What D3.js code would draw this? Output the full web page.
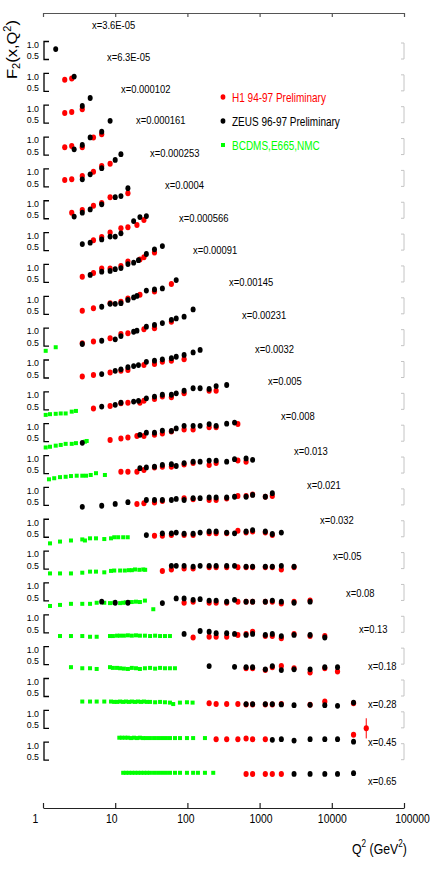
<!DOCTYPE html>
<html><head><meta charset="utf-8">
<script src="https://cdn.jsdelivr.net/npm/d3@7"></script>
<style>
body{margin:0;background:#fff}
svg{display:block}
text{font-family:"Liberation Sans",Arial,Helvetica,sans-serif}
</style>
</head><body>
<svg id="c" width="436" height="872"></svg>
<script>
// ---------------- DATA ----------------
const xBins = ["3.6E-05","6.3E-05","0.000102","0.000161","0.000253","0.0004","0.000566","0.00091",
  "0.00145","0.00231","0.0032","0.005","0.008","0.013","0.021","0.032","0.05","0.08","0.13","0.18",
  "0.28","0.45","0.65"];
const q2Ticks = [1,10,100,1000,10000,100000];
const bracketTicks = [0.5, 1.0];
const seriesNames = ["H1 94-97 Preliminary","ZEUS 96-97 Preliminary","BCDMS,E665,NMC"];

// H1 94-97: per x bin, [Q2, F2, (error)]
const h1 = [
  [],
  [[2,0.82],[2.5,0.86]],
  [[2,0.78],[2.5,0.81],[3.5,0.89]],
  [[2,0.72],[2.5,0.75],[3.5,0.72],[5,0.99],[6.5,1.08]],
  [[2,0.69],[2.5,0.71],[3.5,0.8],[5,0.92],[6.5,1.08],[8.5,1.14]],
  [[2.5,0.67],[3.5,0.74],[5,0.86],[6.5,0.94],[8.5,1.1],[15,1.21]],
  [[5,0.79],[6.5,0.88],[8.5,1.0],[12,1.12],[15,1.15],[20,1.21],[25,1.35]],
  [[3.5,0.66],[5,0.76],[6.5,0.89],[8.5,0.89],[12,0.96],[15,1.08],[22,1.14],[25,1.2],[35,1.33]],
  [[3.5,0.6],[5,0.67],[8.5,0.81],[12,0.85],[15,0.94],[22,1.04],[35,1.13],[60,1.34]],
  [[3.5,0.58],[5,0.63],[8.5,0.72],[12,0.84],[15,0.86],[25,0.97],[35,1.0],[60,1.18]],
  [[3.5,0.54],[5,0.58],[8.5,0.65],[12,0.7],[15,0.72],[25,0.86],[35,0.89],[45,0.95],[60,0.98],[90,1.02]],
  [[5,0.54],[8.5,0.61],[12,0.68],[15,0.7],[22,0.7],[25,0.75],[35,0.8],[45,0.87],[60,0.85],[90,0.96],[200,1.03],[250,1.03]],
  [[8.5,0.55],[12,0.59],[15,0.62],[20,0.66],[25,0.66],[35,0.69],[45,0.73],[60,0.78],[90,0.84],[120,0.84],[200,0.9],[250,0.9],[500,0.99]],
  [[12,0.55],[15,0.55],[20,0.55],[25,0.6],[35,0.67],[45,0.69],[60,0.69],[90,0.75],[120,0.79],[200,0.74],[250,0.79],[500,0.86],[650,0.83]],
  [[20,0.54],[25,0.56],[35,0.58],[45,0.62],[90,0.7],[120,0.67],[200,0.65],[250,0.65],[350,0.69],[500,0.76],[650,0.76],[800,0.8],[1200,0.74],[1500,0.76]],
  [[35,0.54],[45,0.54],[60,0.56],[90,0.56],[120,0.56],[200,0.61],[250,0.61],[350,0.61],[500,0.68],[650,0.63],[800,0.66],[1200,0.63],[1500,0.56]],
  [[45,0.45],[60,0.49],[90,0.52],[120,0.52],[200,0.55],[250,0.55],[350,0.55],[500,0.55],[650,0.55],[800,0.55],[1200,0.55],[1500,0.55],[2000,0.49],[3000,0.55]],
  [[90,0.45],[120,0.48],[200,0.45],[250,0.45],[350,0.45],[500,0.48],[650,0.48],[800,0.48],[1200,0.48],[1500,0.48],[2000,0.43],[3000,0.48],[5000,0.51]],
  [[120,0.37],[200,0.39],[250,0.39],[350,0.39],[500,0.44],[650,0.47],[800,0.53],[1200,0.41],[1500,0.41],[2000,0.35],[3000,0.47],[5000,0.41],[8000,0.41]],
  [[650,0.4],[800,0.4],[1200,0.35],[1500,0.43],[2000,0.46],[3000,0.4],[5000,0.28],[8000,0.4],[12000,0.31]],
  [[200,0.31],[250,0.29],[350,0.29],[500,0.29],[650,0.28],[800,0.28],[1200,0.28],[1500,0.28],[2000,0.29],[5000,0.27],[8000,0.36],[20000,0.31]],
  [[250,0.2],[350,0.2],[500,0.2],[650,0.22],[800,0.2],[1200,0.2],[20000,0.32],[30000,0.5,0.28]],
  [[650,0.12],[800,0.12],[1200,0.12],[1500,0.12],[2000,0.12]]
];

// ZEUS 96-97
const zeus = [
  [[1.5,0.79]],
  [[2.7,0.91]],
  [[3.5,0.98],[4.5,1.2]],
  [[2.7,0.66],[3.5,0.78],[4.5,0.99],[6.5,1.15],[8.5,1.45]],
  [[3.5,0.71],[4.5,0.85],[6.5,1.02],[10,1.25],[12,1.41]],
  [[2.7,0.56],[3.5,0.67],[4.5,0.76],[6.5,0.9],[10,1.1],[12,1.13],[15,1.35]],
  [[3.5,0.68],[4.5,0.72],[6.5,0.81],[8.5,0.89],[10,0.89],[12,0.98],[18,1.32],[22,1.43],[27,1.46]],
  [[4.5,0.71],[6.5,0.8],[8.5,0.82],[10,0.87],[12,0.9],[15,1.01],[18,1.05],[21,1.12],[27,1.29],[35,1.42],[45,1.51]],
  [[6.5,0.71],[8.5,0.79],[10,0.79],[12,0.81],[15,0.9],[18,0.97],[20,1.01],[27,1.16],[35,1.19],[45,1.22],[70,1.45]],
  [[3.5,0.56],[6.5,0.65],[10,0.69],[12,0.78],[18,0.9],[20,0.93],[27,1.04],[35,1.09],[45,1.14],[60,1.23],[70,1.27],[90,1.32],[120,1.52]],
  [[6.5,0.61],[10,0.7],[12,0.74],[15,0.8],[18,0.83],[21,0.86],[27,0.95],[35,0.98],[45,1.02],[60,1.05],[70,1.09],[90,1.14],[120,1.21],[150,1.28]],
  [[6.5,0.59],[10,0.64],[12,0.7],[18,0.73],[21,0.75],[27,0.82],[35,0.87],[45,0.92],[60,0.92],[70,0.96],[90,1.03],[120,1.1],[150,1.1],[200,1.08],[250,1.16],[350,1.19]],
  [[3.5,0.47],[22,0.69],[27,0.75],[35,0.75],[45,0.81],[60,0.8],[70,0.87],[90,0.94],[120,0.94],[150,0.94],[200,0.99],[250,0.94],[350,1.0],[450,1.03]],
  [[22,0.65],[27,0.67],[35,0.69],[45,0.74],[60,0.76],[70,0.71],[90,0.79],[120,0.83],[150,0.83],[200,0.86],[250,0.86],[350,0.83],[450,0.9],[650,0.92],[800,0.88]],
  [[3.5,0.46],[6.5,0.49],[10,0.54],[15,0.59],[27,0.65],[35,0.65],[45,0.65],[60,0.65],[70,0.68],[90,0.65],[120,0.7],[150,0.7],[200,0.72],[250,0.72],[350,0.72],[450,0.74],[650,0.74],[800,0.79],[1200,0.74],[1500,0.84]],
  [[27,0.56],[45,0.61],[60,0.61],[70,0.63],[90,0.6],[120,0.6],[150,0.63],[200,0.66],[250,0.66],[350,0.63],[450,0.61],[650,0.66],[800,0.7],[1200,0.66],[1500,0.59],[2000,0.63]],
  [[60,0.59],[70,0.59],[90,0.59],[120,0.57],[150,0.59],[200,0.59],[250,0.59],[350,0.59],[450,0.59],[650,0.57],[800,0.57],[1200,0.57],[1500,0.57],[2000,0.59],[3000,0.57]],
  [[6.5,0.48],[10,0.45],[15,0.45],[45,0.44],[70,0.57],[90,0.57],[120,0.53],[150,0.55],[200,0.51],[250,0.51],[350,0.48],[450,0.53],[650,0.48],[800,0.48],[1200,0.48],[1500,0.51],[2000,0.48],[3000,0.45],[5000,0.48]],
  [[90,0.47],[150,0.55],[200,0.53],[250,0.49],[350,0.49],[450,0.47],[650,0.44],[800,0.47],[1200,0.44],[1500,0.47],[2000,0.41],[3000,0.44],[5000,0.44],[8000,0.37]],
  [[200,0.46],[450,0.44],[650,0.43],[800,0.43],[1200,0.37],[1500,0.46],[2000,0.35],[3000,0.37],[5000,0.37],[8000,0.43],[12000,0.43]],
  [[650,0.29],[800,0.29],[1200,0.29],[1500,0.29],[2000,0.28],[3000,0.26],[5000,0.27],[8000,0.26],[12000,0.24],[20000,0.33]],
  [[1500,0.18],[2000,0.2],[3000,0.16],[5000,0.2],[8000,0.2],[12000,0.2],[20000,0.13]],
  [[3000,0.12],[5000,0.12],[8000,0.12],[12000,0.12],[20000,0.14]]
];

// BCDMS, E665, NMC (fixed target)
const fixedTarget = [
  [],[],[],[],[],[],[],[],[],
  [[1.09,0.37],[1.5,0.47]],
  [],
  [[1.09,0.36],[1.25,0.38],[1.5,0.39],[1.76,0.4],[2.06,0.4],[2.5,0.45],[2.86,0.47]],
  [[1.09,0.34],[1.25,0.36],[1.5,0.39],[1.76,0.41],[2.06,0.44],[2.5,0.44],[2.86,0.46],[3.81,0.5],[4.03,0.52]],
  [[1.21,0.34],[1.43,0.37],[1.72,0.4],[2.06,0.41],[2.44,0.43],[2.93,0.44],[3.5,0.44],[3.94,0.44],[4.58,0.46],[5.42,0.51],[7.2,0.46]],
  [],
  [[1.25,0.33],[1.72,0.38],[2.44,0.41],[3.5,0.44],[3.81,0.41],[4.48,0.47],[5.42,0.47],[7.06,0.45],[8.75,0.47],[9.7,0.5],[11,0.5],[12.9,0.5],[14.9,0.5]],
  [[1.25,0.38],[1.72,0.38],[2.44,0.38],[3.5,0.4],[4.48,0.43],[5.42,0.43],[7.06,0.41],[8.75,0.45],[9.7,0.46],[11.7,0.46],[13.6,0.46],[15.5,0.47],[17,0.47],[18.8,0.49],[21.6,0.48],[24.5,0.49],[26,0.48]],
  [[1.25,0.36],[1.72,0.39],[2.44,0.42],[3.5,0.42],[4.48,0.42],[5.54,0.45],[7.06,0.45],[8.47,0.44],[9.7,0.45],[11.7,0.44],[12.9,0.45],[14,0.46],[15.5,0.47],[17,0.47],[19.4,0.48],[22,0.47],[25.8,0.51],[33.7,0.27]],
  [[1.72,0.41],[2.44,0.41],[3.5,0.41],[4.48,0.39],[5.54,0.39],[8.47,0.41],[9.3,0.41],[10.6,0.42],[11.7,0.42],[13.2,0.42],[15,0.43],[17,0.42],[19.4,0.43],[22,0.42],[25.8,0.42],[30.4,0.41],[35.7,0.42],[41.8,0.41],[48.9,0.41],[57.3,0.41]],
  [[2.44,0.43],[3.5,0.4],[4.48,0.4],[5.54,0.38],[8.47,0.43],[9.3,0.41],[10.6,0.41],[11.7,0.4],[13.2,0.39],[15,0.38],[17,0.41],[19.4,0.4],[22,0.38],[25.8,0.4],[30.4,0.41],[35.7,0.39],[41.8,0.41],[48.9,0.4],[57.3,0.4],[67.2,0.4]],
  [[3.5,0.36],[4.48,0.36],[5.54,0.36],[7.06,0.36],[8.75,0.36],[9.7,0.35],[10.6,0.35],[11.7,0.36],[12.9,0.35],[14.1,0.36],[15.5,0.35],[17,0.36],[18.8,0.35],[20.7,0.36],[22.8,0.35],[25,0.36],[27.6,0.35],[30.4,0.35],[35.7,0.34],[41.8,0.35],[48.9,0.34],[57.3,0.33],[63.6,0.29],[78.8,0.33],[98.6,0.34],[118,0.33]],
  [[11.4,0.24],[12.4,0.24],[13.7,0.24],[15,0.24],[16.6,0.23],[18.2,0.24],[20,0.23],[22,0.24],[24.3,0.23],[26.7,0.23],[30.3,0.23],[34.5,0.23],[39.2,0.23],[44.5,0.23],[50.5,0.23],[57.4,0.23],[67.3,0.23],[79,0.23],[98.6,0.23],[120,0.23],[175,0.23]],
  [[12.9,0.15],[14.1,0.15],[15.5,0.15],[17.1,0.15],[18.8,0.15],[20.7,0.15],[22.8,0.15],[25.1,0.15],[27.6,0.15],[30.3,0.15],[34.5,0.15],[39.2,0.15],[44.5,0.15],[50.5,0.15],[57.4,0.15],[67.3,0.15],[79,0.15],[98.6,0.15],[120,0.15],[140,0.15],[175,0.15],[228,0.15]]
];

// ---------------- LAYOUT ----------------
const labelPos = [[92,29],[107,61],[121,93],[136,124],[150,157],[165,189],[179,222],[193,254],
  [229,286],[242,319],[255,353],[268,385],[281,420],[294,455],[307,489],[320,524],[333,560],
  [346,597],[359,633],[368,670],[368,708],[368,746],[368,785]];
const tickDx = [-8,-4,-2,1,0,8];
const RED="#ff0000", BLACK="#000000", GREEN="#00ff00";

const svg = d3.select("#c");
const xS = d3.scaleLog().domain([1,1e5]).range([43,404]);
const rowS = d3.scaleLinear().domain([0, xBins.length-1]).range([77.5, 778.2]);
const fS = d3.scaleLinear().domain([0,1]).range([0,-36]);
const Y = (i,v) => rowS(i) + fS(v);

function label(g, str, px, py, size, sx, fill, anchor){
  return g.append("text")
    .attr("transform",`translate(${px},${py}) scale(${sx},1)`)
    .attr("font-size",size).attr("fill",fill)
    .attr("text-anchor",anchor||"start").text(str);
}

// top axis
const topAx = svg.append("g").attr("transform","translate(0,13)")
  .call(d3.axisBottom(xS).tickValues(q2Ticks).tickSizeInner(4).tickSizeOuter(0).tickFormat(""));
topAx.selectAll("path,line").attr("stroke","#555").attr("stroke-width",1.2);

// bottom axis
const botAx = svg.append("g").attr("transform","translate(0,808)")
  .call(d3.axisBottom(xS).tickValues(q2Ticks).tickSizeInner(-5).tickSizeOuter(0).tickPadding(6).tickFormat(d3.format("d")));
botAx.attr("font-size",13).attr("font-family","Liberation Sans, Arial, sans-serif");
botAx.selectAll("path,line").attr("stroke","#222").attr("stroke-width",1.2);
botAx.selectAll("text").attr("fill","#000").attr("transform",(d,i)=>`translate(${tickDx[i]},0) scale(0.8,1)`);

// per-bin brackets (left scale + right grey frame)
const panels = svg.append("g").selectAll("g").data(xBins).join("g");
panels.append("path")
  .attr("d",(d,i)=>`M${xS(1)+6},${Y(i,bracketTicks[1])}H${xS(1)+1}V${Y(i,bracketTicks[0])}H${xS(1)+6}`)
  .attr("fill","none").attr("stroke","#000").attr("stroke-width",1.3);
panels.append("path")
  .attr("d",(d,i)=>`M${xS(1e5)-3},${Y(i,bracketTicks[1])+1.5}H${xS(1e5)}V${Y(i,bracketTicks[0])-0.5}H${xS(1e5)-3}`)
  .attr("fill","none").attr("stroke","#c4c4c4").attr("stroke-width",1);
panels.each(function(d,i){
  const g = d3.select(this);
  label(g, d3.format(".1f")(bracketTicks[1]), 39, Y(i,bracketTicks[1])+6.3, 9.5, 0.93, "#000", "end");
  label(g, d3.format(".1f")(bracketTicks[0]), 39, Y(i,bracketTicks[0])-0.3, 9.5, 0.93, "#000", "end");
  label(g, "x="+d, labelPos[i][0], labelPos[i][1], 11.5, 0.82, "#000", "start");
});

// data
const flat = arr => arr.flatMap((pts,i)=>pts.map(p=>({i, q:p[0], v:p[1], e:p[2]||0})));
const gFix = svg.append("g"), gH1 = svg.append("g"), gZ = svg.append("g");
gFix.selectAll("rect").data(flat(fixedTarget)).join("rect")
  .attr("x",d=>xS(d.q)-2).attr("y",d=>Y(d.i,d.v)-2).attr("width",4).attr("height",4).attr("fill",GREEN);
const h1Pts = flat(h1);
gH1.selectAll("line").data(h1Pts.filter(d=>d.e>0)).join("line")
  .attr("x1",d=>xS(d.q)).attr("x2",d=>xS(d.q))
  .attr("y1",d=>Y(d.i,d.v-d.e)).attr("y2",d=>Y(d.i,d.v+d.e))
  .attr("stroke",RED).attr("stroke-width",1);
gH1.selectAll("ellipse").data(h1Pts).join("ellipse")
  .attr("cx",d=>xS(d.q)).attr("cy",d=>Y(d.i,d.v)).attr("rx",2.6).attr("ry",3).attr("fill",RED);
gZ.selectAll("ellipse").data(flat(zeus)).join("ellipse")
  .attr("cx",d=>xS(d.q)).attr("cy",d=>Y(d.i,d.v)).attr("rx",2.5).attr("ry",2.9).attr("fill",BLACK);

// legend
const leg = svg.append("g");
const legColors = [RED,BLACK,GREEN];
const legY = [97,121,145];
seriesNames.forEach((s,k)=>{
  if(k<2) leg.append("ellipse").attr("cx",223).attr("cy",legY[k]).attr("rx",2.4).attr("ry",2.8).attr("fill",legColors[k]);
  else leg.append("rect").attr("x",221).attr("y",legY[k]-2).attr("width",4).attr("height",4).attr("fill",GREEN);
  label(leg, s, 232, legY[k]+4.6, 13, 0.77, legColors[k], "start");
});

// axis titles
const xt = svg.append("text").attr("transform","translate(352,854) scale(0.82,1)").attr("font-size",15).attr("fill","#000");
xt.append("tspan").text("Q");
xt.append("tspan").attr("font-size",10).attr("dy",-7).text("2");
xt.append("tspan").attr("dy",7).text(" (GeV");
xt.append("tspan").attr("font-size",10).attr("dy",-7).text("2");
xt.append("tspan").attr("dy",7).text(")");

const yt = svg.append("text").attr("transform","translate(17,79) rotate(-90) scale(1.1,1)").attr("font-size",15).attr("fill","#000");
yt.append("tspan").text("F");
yt.append("tspan").attr("font-size",10).attr("dy",3).text("2");
yt.append("tspan").attr("dy",-3).text("(x,Q");
yt.append("tspan").attr("font-size",10).attr("dy",-6).text("2");
yt.append("tspan").attr("dy",6).text(")");
</script>
</body></html>
